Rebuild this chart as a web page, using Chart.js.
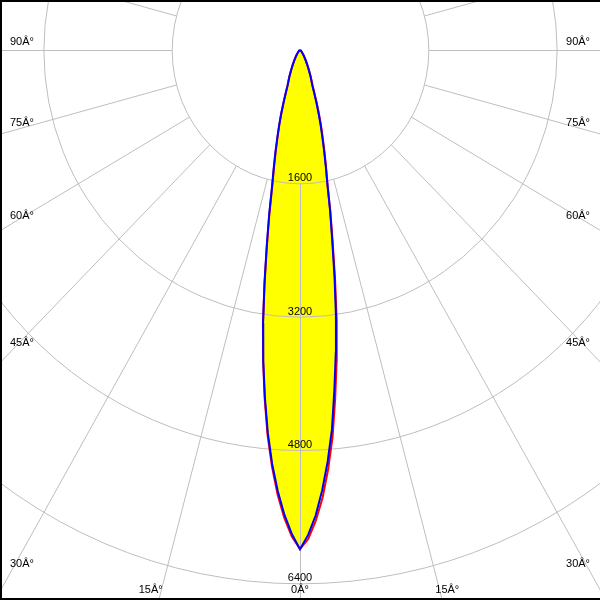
<!DOCTYPE html>
<html>
<head>
<meta charset="utf-8">
<script src="https://cdn.jsdelivr.net/npm/chart.js"></script>
<style>
  body { margin: 0; background: #fff; }
</style>
</head>
<body>
<canvas id="polar" width="600" height="600"></canvas>
<script>
// gamma angles (deg from nadir) and intensities (cd) for each half plane
const angles = [0, 1, 2, 3, 4, 5, 6, 7, 8, 9, 10, 11, 12, 13, 14, 15, 16, 17, 18, 19, 20, 22.5, 25, 27.5, 30, 35, 40, 50, 60, 90];
const blueRight = [5990, 5820, 5590, 5290, 4950, 4570, 4100, 3660, 3220, 2750, 2310, 1970, 1640, 1430, 1240, 1070, 930, 790, 660, 540, 450, 345, 255, 190, 140, 80, 45, 20, 10, 0];
const blueLeft = [5990, 5810, 5580, 5300, 4980, 4610, 4190, 3760, 3310, 2830, 2390, 2020, 1680, 1460, 1270, 1100, 950, 810, 670, 550, 455, 350, 255, 190, 140, 80, 45, 20, 10, 0];
const redRight = [5990, 5870, 5650, 5380, 5040, 4660, 4200, 3750, 3290, 2800, 2350, 1990, 1650, 1440, 1260, 1100, 960, 820, 690, 560, 460, 350, 255, 190, 140, 80, 45, 20, 10, 0];
const redLeft = [5990, 5840, 5620, 5340, 5010, 4640, 4210, 3770, 3320, 2820, 2370, 2000, 1660, 1440, 1250, 1080, 940, 800, 665, 545, 450, 345, 255, 190, 140, 80, 45, 20, 10, 0];

const ringValues = [1600, 3200, 4800, 6400];
const tickAngles = [0, 15, 30, 45, 60, 75, 90];
const tickLabels = ['0Â°', '15Â°', '30Â°', '45Â°', '60Â°', '75Â°', '90Â°'];

const rad = a => a * Math.PI / 180;

// left half goes from 90 down to 0, right half from 0 up to 90
function toPoints(left, right) {
  const pts = [];
  for (let i = angles.length - 1; i >= 0; i--) {
    pts.push({ x: -left[i] * Math.sin(rad(angles[i])), y: -left[i] * Math.cos(rad(angles[i])) });
  }
  for (let i = 1; i < angles.length; i++) {
    pts.push({ x: right[i] * Math.sin(rad(angles[i])), y: -right[i] * Math.cos(rad(angles[i])) });
  }
  return pts;
}

const polarGrid = {
  id: 'polarGrid',
  beforeDatasetsDraw(chart) {
    const { ctx, scales: { x, y } } = chart;
    const px = (r, a) => x.getPixelForValue(r * Math.sin(rad(a)));
    const py = (r, a) => y.getPixelForValue(-r * Math.cos(rad(a)));
    const cx = px(0, 0), cy = py(0, 0);
    ctx.save();
    ctx.translate(0.5, 0.5);
    ctx.strokeStyle = '#bebebe';
    ctx.lineWidth = 1;
    ringValues.forEach(r => {
      ctx.beginPath();
      ctx.ellipse(cx, cy, px(r, 90) - cx, py(r, 0) - cy, 0, 0, 2 * Math.PI);
      ctx.stroke();
    });
    for (let a = 0; a < 360; a += 15) {
      ctx.beginPath();
      ctx.moveTo(px(ringValues[0], a), py(ringValues[0], a));
      ctx.lineTo(px(12000, a), py(12000, a));
      ctx.stroke();
    }
    ctx.restore();
  },
  afterDatasetsDraw(chart) {
    const { ctx, scales: { x, y } } = chart;
    const cx = x.getPixelForValue(0);
    ctx.save();
    ctx.fillStyle = '#000';
    ctx.font = '11px "Liberation Sans", Arial, sans-serif';
    ctx.textBaseline = 'alphabetic';
    // ring values
    ctx.textAlign = 'center';
    ringValues.forEach(r => {
      ctx.fillText(String(r), cx, y.getPixelForValue(-r) - 2);
    });
    // angle labels
    tickAngles.forEach((a, i) => {
      const txt = tickLabels[i];
      if (a === 0) {
        ctx.textAlign = 'center';
        ctx.fillText(txt, cx, 593);
      } else if (a === 15) {
        const yv = y.getValueForPixel(598);
        const t = -yv / Math.cos(rad(a));
        const dx = x.getPixelForValue(t * Math.sin(rad(a))) - cx;
        ctx.textAlign = 'right';
        ctx.fillText(txt, cx - dx + 4, 593);
        ctx.textAlign = 'left';
        ctx.fillText(txt, cx + dx - 6, 593);
      } else {
        const xv = x.getValueForPixel(10);
        const t = -xv / Math.sin(rad(a));
        const ly = y.getPixelForValue(-t * Math.cos(rad(a)));
        ctx.textAlign = 'left';
        ctx.fillText(txt, 10, ly - 5);
        ctx.textAlign = 'right';
        ctx.fillText(txt, 590, ly - 5);
      }
    });
    ctx.restore();
  },
  afterDraw(chart) {
    const { ctx } = chart;
    ctx.save();
    ctx.fillStyle = '#000';
    ctx.fillRect(0, 0, 600, 2);
    ctx.fillRect(0, 0, 2, 600);
    ctx.fillRect(0, 598, 600, 2);
    ctx.restore();
  }
};

new Chart(document.getElementById('polar'), {
  type: 'scatter',
  data: {
    datasets: [
      {
        label: 'C90 - C270',
        data: toPoints(blueLeft, blueRight),
        showLine: true,
        borderColor: '#0000ff',
        borderWidth: 2,
        backgroundColor: '#ffff00',
        fill: 'shape',
        pointRadius: 0,
        tension: 0
      },
      {
        label: 'C0 - C180',
        data: toPoints(redLeft, redRight),
        showLine: true,
        borderColor: '#ff0000',
        borderWidth: 2,
        fill: false,
        pointRadius: 0,
        tension: 0
      }
    ]
  },
  options: {
    responsive: false,
    animation: false,
    layout: { padding: 0 },
    scales: {
      x: { type: 'linear', min: -3741, max: 3741, display: false },
      y: { type: 'linear', min: -6600, max: 600, display: false }
    },
    plugins: {
      legend: { display: false },
      tooltip: { enabled: false },
      filler: { drawTime: 'beforeDraw' }
    }
  },
  plugins: [polarGrid]
});
</script>
</body>
</html>
